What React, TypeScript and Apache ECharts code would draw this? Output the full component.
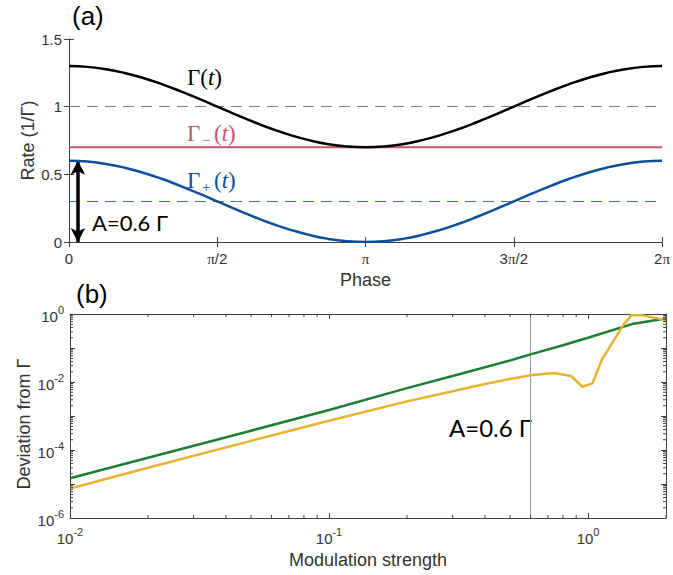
import React, { useEffect, useRef } from 'react';
import * as echarts from 'echarts';

// ---------- Panel (a) data: phase in units of pi ----------
const phase = [
  0, 0.0625, 0.125, 0.1875, 0.25, 0.3125, 0.375, 0.4375, 0.5, 0.5625, 0.625, 0.6875, 0.75, 0.8125, 0.875, 0.9375,
  1, 1.0625, 1.125, 1.1875, 1.25, 1.3125, 1.375, 1.4375, 1.5, 1.5625, 1.625, 1.6875, 1.75, 1.8125, 1.875, 1.9375, 2,
];
const gammaTotal = [
  1.3, 1.294, 1.277, 1.249, 1.212, 1.167, 1.115, 1.059, 1.0, 0.941, 0.885, 0.833, 0.788, 0.751, 0.723, 0.706,
  0.7, 0.706, 0.723, 0.751, 0.788, 0.833, 0.885, 0.941, 1.0, 1.059, 1.115, 1.167, 1.212, 1.249, 1.277, 1.294, 1.3,
];
const gammaPlus = [
  0.6, 0.594, 0.577, 0.549, 0.512, 0.467, 0.415, 0.359, 0.3, 0.241, 0.185, 0.133, 0.088, 0.051, 0.023, 0.006,
  0, 0.006, 0.023, 0.051, 0.088, 0.133, 0.185, 0.241, 0.3, 0.359, 0.415, 0.467, 0.512, 0.549, 0.577, 0.594, 0.6,
];
const gammaMinusPhase = [0, 2];
const gammaMinus = [0.7, 0.7];
const refLevelTotal = 1.0;
const refLevelPlus = 0.3;
const arrowPhase = 0.03;
const arrowRange = [0.6, 0];
const phaseTickLabels: Record<string, string> = {
  '0': '0',
  '0.5': '{p|π}/2',
  '1': '{p|π}',
  '1.5': '3{p|π}/2',
  '2': '2{p|π}',
};

// ---------- Panel (b) data ----------
const greenStrength = [0.01, 0.02, 0.05, 0.1, 0.2, 0.3, 0.5, 0.6, 0.8, 1, 1.5, 2];
const greenDeviation = [1.48e-5, 5.9e-5, 3.7e-4, 1.5e-3, 6.6e-3, 0.015, 0.043, 0.065, 0.12, 0.2, 0.52, 0.74];
const orangeStrength = [0.01, 0.02, 0.05, 0.1, 0.2, 0.3, 0.4, 0.5, 0.6, 0.7, 0.75, 0.86, 0.95, 1.04, 1.13, 1.37, 1.47, 1.62, 2];
const orangeDeviation = [
  7.41e-6, 3.02e-5, 1.86e-4, 7.24e-4, 2.69e-3, 5.37e-3, 8.71e-3, 0.0123, 0.0158, 0.0178, 0.0182, 0.0151, 0.00724,
  0.00912, 0.0447, 0.479, 0.912, 0.912, 0.661,
];
const markerStrength = 0.6;
const xMinorTicks = [
  0.02, 0.03, 0.04, 0.05, 0.06, 0.07, 0.08, 0.09, 0.2, 0.3, 0.4, 0.5, 0.6, 0.7, 0.8, 0.9, 2,
];
const yMinorTicks = [
  2e-6, 3e-6, 4e-6, 5e-6, 6e-6, 7e-6, 8e-6, 9e-6, 2e-5, 3e-5, 4e-5, 5e-5, 6e-5, 7e-5, 8e-5, 9e-5,
  2e-4, 3e-4, 4e-4, 5e-4, 6e-4, 7e-4, 8e-4, 9e-4, 2e-3, 3e-3, 4e-3, 5e-3, 6e-3, 7e-3, 8e-3, 9e-3,
  0.02, 0.03, 0.04, 0.05, 0.06, 0.07, 0.08, 0.09, 0.2, 0.3, 0.4, 0.5, 0.6, 0.7, 0.8, 0.9,
];

const AX = '#404040';
const SANS = 'Liberation Sans, Arial, sans-serif';
const SERIF = 'Liberation Serif, DejaVu Serif, serif';
const CALIBRI = 'Lato, Open Sans, sans-serif';
const PINK = '#c9526c';
const BLUE = '#0d4e9c';

const expLabel = (v: number, evenOnly: boolean) => {
  const e = Math.log10(v);
  const r = Math.round(e);
  if (Math.abs(e - r) > 1e-6) return '';
  if (evenOnly && r % 2 !== 0) return '';
  return `{b|10}{s|${r}}`;
};
const expRich = {
  b: { fontSize: 15, fontFamily: SANS, color: '#333', lineHeight: 20, verticalAlign: 'bottom' },
  s: { fontSize: 11, fontFamily: SANS, color: '#333', lineHeight: 11, verticalAlign: 'top' },
};

const subLabel = (x: number, y: number, sub: string, color: string) => ({
  type: 'group', x, y,
  children: [
    { type: 'text', x: 0, y: 0, style: { text: 'Γ', fontSize: 23, fontFamily: SERIF, fill: color, verticalAlign: 'middle' } },
    { type: 'text', x: 15, y: 7, style: { text: sub, fontSize: 15, fontFamily: SERIF, fill: color, verticalAlign: 'middle' } },
    {
      type: 'text', x: 27, y: 0,
      style: {
        text: '({i|t})', fontSize: 23, fontFamily: SERIF, fill: color, verticalAlign: 'middle',
        rich: { i: { fontStyle: 'italic', fontSize: 23, fontFamily: SERIF, fill: color } },
      },
    },
  ],
});

export default function App() {
  const ref = useRef<HTMLDivElement>(null);
  useEffect(() => {
    if (!ref.current) return;
    const chart = echarts.init(ref.current, undefined, { renderer: 'svg' });

    const tickStyle = { inside: true, length: 5, lineStyle: { color: AX, width: 1 } };
    const lineStyleAx = { show: true, lineStyle: { color: AX, width: 1 } };

    const minorTickSeries = (axis: 'x' | 'y', values: number[]) => ({
      type: 'custom',
      xAxisIndex: 2,
      yAxisIndex: 2,
      silent: true,
      z: 10,
      clip: false,
      data: values.map((v) => (axis === 'x' ? [v, 1e-6] : [0.01, v])),
      renderItem: (params: any, api: any) => {
        const cs = params.coordSys;
        const st = { stroke: AX, lineWidth: 1 };
        if (axis === 'x') {
          const x = api.coord([api.value(0), 1e-6])[0];
          const b = cs.y + cs.height;
          return {
            type: 'group',
            children: [
              { type: 'line', shape: { x1: x, y1: b, x2: x, y2: b - 3 }, style: st },
              { type: 'line', shape: { x1: x, y1: cs.y, x2: x, y2: cs.y + 3 }, style: st },
            ],
          };
        }
        const y = api.coord([0.01, api.value(1)])[1];
        const r = cs.x + cs.width;
        return {
          type: 'group',
          children: [
            { type: 'line', shape: { x1: cs.x, y1: y, x2: cs.x + 3, y2: y }, style: st },
            { type: 'line', shape: { x1: r, y1: y, x2: r - 3, y2: y }, style: st },
          ],
        };
      },
    });

    chart.setOption({
      animation: false,
      backgroundColor: '#fff',
      grid: [
        { left: 69, top: 39, right: 7, height: 203 },
        { left: 70, top: 314, right: 7, height: 204 },
      ],
      xAxis: [
        {
          type: 'value', gridIndex: 0, min: 0, max: 2, interval: 0.5, position: 'bottom',
          axisLine: lineStyleAx, axisTick: tickStyle, splitLine: { show: false },
          axisLabel: {
            margin: 9, fontSize: 15, fontFamily: SANS, color: '#333',
            formatter: (v: number) => phaseTickLabels[String(v)] ?? '',
            rich: { p: { fontFamily: SERIF, fontSize: 15, color: '#333' } },
          },
          name: 'Phase', nameLocation: 'middle', nameGap: 29, nameMoveOverlap: false,
          nameTextStyle: { fontSize: 18, fontFamily: SANS, color: '#333' },
        },
        {
          type: 'value', gridIndex: 0, min: 0, max: 2, interval: 0.5, position: 'top',
          axisLine: lineStyleAx, axisTick: tickStyle, axisLabel: { show: false }, splitLine: { show: false },
        },
        {
          type: 'log', gridIndex: 1, min: 0.01, max: 2, logBase: 10, position: 'bottom',
          axisLine: lineStyleAx, axisTick: tickStyle, splitLine: { show: false },
          axisLabel: { margin: 8, formatter: (v: number) => expLabel(v, false), rich: expRich },
          name: 'Modulation strength', nameLocation: 'middle', nameGap: 33, nameMoveOverlap: false,
          nameTextStyle: { fontSize: 18, fontFamily: SANS, color: '#333' },
        },
        {
          type: 'log', gridIndex: 1, min: 0.01, max: 2, logBase: 10, position: 'top',
          axisLine: lineStyleAx, axisTick: tickStyle, axisLabel: { show: false }, splitLine: { show: false },
        },
      ],
      yAxis: [
        {
          type: 'value', gridIndex: 0, min: 0, max: 1.5, interval: 0.5, position: 'left',
          axisLine: lineStyleAx, axisTick: tickStyle, splitLine: { show: false },
          axisLabel: { margin: 7, fontSize: 15, fontFamily: SANS, color: '#333' },
          name: 'Rate (1/Γ)', nameLocation: 'middle', nameGap: 32, nameMoveOverlap: false,
          nameTextStyle: { fontSize: 18, fontFamily: SANS, color: '#333' },
        },
        {
          type: 'value', gridIndex: 0, min: 0, max: 1.5, interval: 0.5, position: 'right',
          axisLine: lineStyleAx, axisTick: tickStyle, axisLabel: { show: false }, splitLine: { show: false },
        },
        {
          type: 'log', gridIndex: 1, min: 1e-6, max: 1, logBase: 10, splitNumber: 6, position: 'left',
          axisLine: lineStyleAx, axisTick: tickStyle, splitLine: { show: false },
          axisLabel: { margin: 6, formatter: (v: number) => expLabel(v, true), rich: expRich },
          name: 'Deviation from Γ', nameLocation: 'middle', nameGap: 37, nameMoveOverlap: false,
          nameTextStyle: { fontSize: 18, fontFamily: SANS, color: '#333', padding: [0, 16, 0, 0] },
        },
        {
          type: 'log', gridIndex: 1, min: 1e-6, max: 1, logBase: 10, splitNumber: 6, position: 'right',
          axisLine: lineStyleAx, axisTick: tickStyle, axisLabel: { show: false }, splitLine: { show: false },
        },
      ],
      series: [
        {
          name: 'Γ(t)', type: 'line', xAxisIndex: 0, yAxisIndex: 0, smooth: true, showSymbol: false,
          data: phase.map((p, i) => [p, gammaTotal[i]]),
          lineStyle: { color: '#000', width: 2.5 }, z: 5,
          markLine: {
            silent: true, symbol: 'none', label: { show: false },
            lineStyle: { color: '#808080', width: 1, type: [11, 7] },
            data: [{ yAxis: refLevelTotal }],
          },
        },
        {
          name: 'Γ−(t)', type: 'line', xAxisIndex: 0, yAxisIndex: 0, showSymbol: false,
          data: gammaMinusPhase.map((p, i) => [p, gammaMinus[i]]),
          lineStyle: { color: PINK, width: 2 }, z: 4,
        },
        {
          name: 'Γ+(t)', type: 'line', xAxisIndex: 0, yAxisIndex: 0, smooth: true, showSymbol: false,
          data: phase.map((p, i) => [p, gammaPlus[i]]),
          lineStyle: { color: BLUE, width: 2.5 }, z: 5,
          markLine: {
            silent: true, symbol: 'none', label: { show: false },
            lineStyle: { color: '#3f6cc0', width: 1, type: [11, 7] },
            data: [{ yAxis: refLevelPlus }],
          },
        },
        {
          name: 'arrow', type: 'line', xAxisIndex: 0, yAxisIndex: 0, showSymbol: false, data: [],
          markLine: {
            silent: true, symbol: ['arrow', 'arrow'], symbolSize: [11, 14], label: { show: false },
            lineStyle: { color: '#000', width: 3.5, type: 'solid' },
            data: [[{ coord: [arrowPhase, arrowRange[0]] }, { coord: [arrowPhase, arrowRange[1]] }]],
          },
        },
        {
          name: 'green', type: 'line', xAxisIndex: 2, yAxisIndex: 2, showSymbol: false,
          data: greenStrength.map((a, i) => [a, greenDeviation[i]]),
          lineStyle: { color: '#1f7d35', width: 2.5 }, z: 5,
          markLine: {
            silent: true, symbol: 'none', label: { show: false },
            lineStyle: { color: '#9a9a9a', width: 1, type: 'solid' },
            data: [{ xAxis: markerStrength }],
          },
        },
        {
          name: 'orange', type: 'line', xAxisIndex: 2, yAxisIndex: 2, showSymbol: false,
          data: orangeStrength.map((a, i) => [a, orangeDeviation[i]]),
          lineStyle: { color: '#e8b231', width: 2.5 }, z: 5,
        },
        minorTickSeries('x', xMinorTicks),
        minorTickSeries('y', yMinorTicks),
      ],
      graphic: [
        { type: 'text', left: 72, top: 3, style: { text: '(a)', fontSize: 26, fontFamily: SANS, fill: '#000' } },
        { type: 'text', left: 76, top: 281, style: { text: '(b)', fontSize: 26, fontFamily: SANS, fill: '#000' } },
        {
          type: 'text', x: 187, y: 77,
          style: {
            text: 'Γ({i|t})', fontSize: 23, fontFamily: SERIF, fill: '#000', verticalAlign: 'middle',
            rich: { i: { fontStyle: 'italic', fontSize: 23, fontFamily: SERIF, fill: '#000' } },
          },
        },
        subLabel(187, 133, '−', PINK),
        subLabel(187, 180, '+', BLUE),
        {
          type: 'text', x: 92, y: 222,
          style: { text: 'A=0.6 Γ', fontSize: 22, fontFamily: CALIBRI, fill: '#000', verticalAlign: 'middle' },
        },
        {
          type: 'text', x: 532, y: 427,
          style: { text: 'A=0.6 Γ', fontSize: 24, fontFamily: CALIBRI, fill: '#000', align: 'right', verticalAlign: 'middle' },
        },
      ],
    });
    return () => chart.dispose();
  }, []);
  return <div ref={ref} style={{ position: 'absolute', left: 0, top: 0, width: 673, height: 575 }} />;
}
